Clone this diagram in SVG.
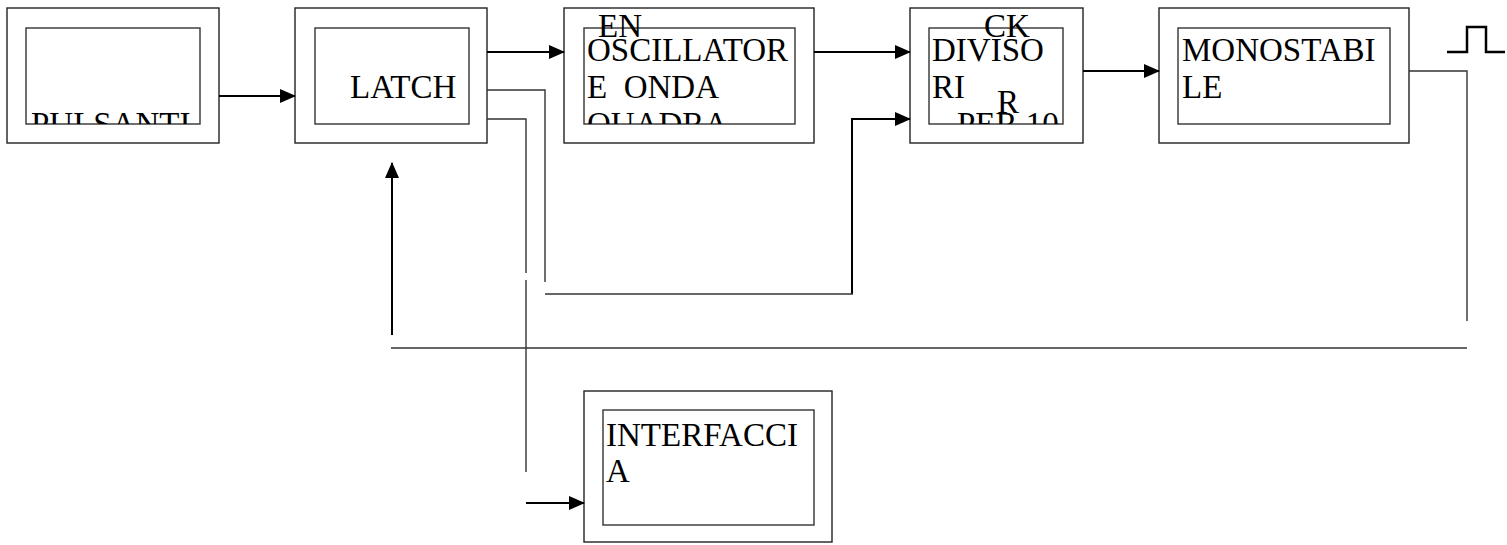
<svg xmlns="http://www.w3.org/2000/svg" width="1507" height="545" viewBox="0 0 1507 545">
<style>
.outer{fill:none;stroke:#222;stroke-width:1.4}
.inner{fill:none;stroke:#333;stroke-width:1.4}
.t{font-family:"Liberation Serif","Times New Roman",serif;font-size:33px;fill:#000}
.a{fill:none;stroke:#000;stroke-width:2}
.w{fill:none;stroke:#333;stroke-width:1.4}
</style>
<defs>
<marker id="ah" markerUnits="userSpaceOnUse" markerWidth="16" markerHeight="14" refX="15" refY="7" orient="auto">
<path d="M0,0 L16,7 L0,14 Z" fill="#000"/>
</marker>
<clipPath id="c1"><rect x="26" y="28" width="174" height="96"/></clipPath>
<clipPath id="c3"><rect x="584" y="28" width="211" height="96"/></clipPath>
<clipPath id="c4"><rect x="929" y="28" width="134" height="96"/></clipPath>
</defs>
<g id="pulsanti">
<rect class="outer" x="7" y="8" width="212" height="135"/>
<rect class="inner" x="26" y="28" width="174" height="96"/>
<text class="t" x="31" y="135" clip-path="url(#c1)">PULSANTI</text>
</g>
<g id="latch">
<rect class="outer" x="295" y="8" width="192" height="135"/>
<rect class="inner" x="315" y="28" width="154" height="96"/>
<text class="t" x="350" y="98">LATCH</text>
</g>
<g id="oscillatore">
<rect class="outer" x="564" y="8" width="250" height="135"/>
<rect class="inner" x="584" y="28" width="211" height="96"/>
<text class="t" x="598" y="37">EN</text>
<g clip-path="url(#c3)">
<text class="t" x="587" y="61">OSCILLATOR</text>
<text class="t" x="587" y="98">E&#160; ONDA</text>
<text class="t" x="587" y="135">QUADRA</text>
</g>
</g>
<g id="divisori">
<rect class="outer" x="910" y="8" width="173" height="135"/>
<rect class="inner" x="929" y="28" width="134" height="96"/>
<text class="t" x="984" y="37">CK</text>
<g clip-path="url(#c4)">
<text class="t" x="932" y="61">DIVISO</text>
<text class="t" x="932" y="98">RI</text>
<text class="t" x="957" y="135">PER 10</text>
</g>
<text class="t" x="997" y="113">R</text>
</g>
<g id="monostabile">
<rect class="outer" x="1159" y="8" width="250" height="135"/>
<rect class="inner" x="1178" y="28" width="212" height="96"/>
<text class="t" x="1182" y="61">MONOSTABI</text>
<text class="t" x="1182" y="98">LE</text>
</g>
<g id="interfaccia">
<rect class="outer" x="584" y="391" width="248" height="151"/>
<rect class="inner" x="603" y="410" width="211" height="115"/>
<text class="t" x="606" y="446">INTERFACCI</text>
<text class="t" x="606" y="482">A</text>
</g>
<g id="pulse">
<path d="M1447,52 H1467 V27 H1486 V52 H1505" fill="none" stroke="#000" stroke-width="2.5"/>
</g>
<g id="connectors">
<line class="a" x1="219" y1="96" x2="295" y2="96" marker-end="url(#ah)"/>
<line class="a" x1="487" y1="52" x2="564" y2="52" marker-end="url(#ah)"/>
<line class="a" x1="814" y1="52" x2="910" y2="52" marker-end="url(#ah)"/>
<line class="a" x1="1083" y1="71" x2="1159" y2="71" marker-end="url(#ah)"/>
<polyline class="a" points="852,294 852,119 910,119" marker-end="url(#ah)"/>
<polyline class="w" points="487,90 545,90 545,282"/>
<polyline class="w" points="545,294 853,294"/>
<polyline class="w" points="487,119 526,119 526,273"/>
<line class="w" x1="526" y1="280" x2="526" y2="472"/>
<line class="a" x1="526" y1="503" x2="584" y2="503" marker-end="url(#ah)"/>
<polyline class="w" points="1409,71 1467,71 1467,321"/>
<line class="w" x1="391" y1="348" x2="1467" y2="348"/>
<line class="a" x1="392" y1="335" x2="392" y2="163" marker-end="url(#ah)"/>
</g>
</svg>
